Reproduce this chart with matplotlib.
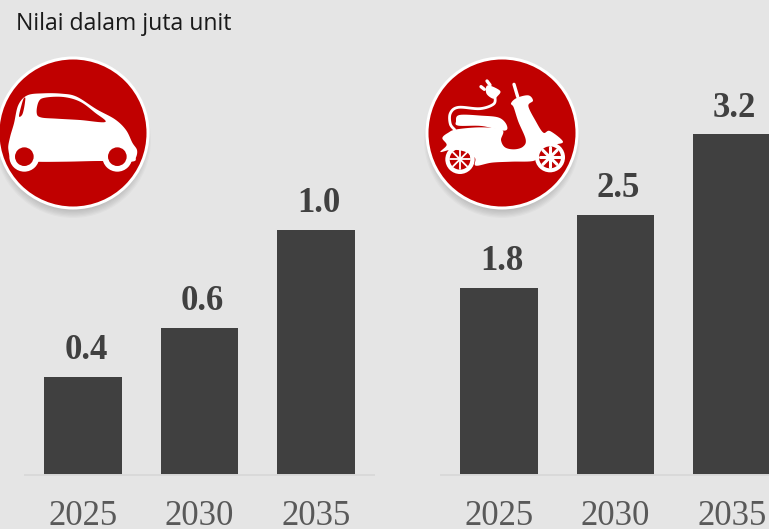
import numpy as np
import matplotlib
matplotlib.use("Agg")
import matplotlib.pyplot as plt
from matplotlib.patches import Circle, Polygon

W, H = 769, 529
BG = "#E5E5E5"; BAR = "#404040"; RED = "#C00000"; TICK = "#595959"; BASE = "#D9D9D9"

years = ["2025", "2030", "2035"]
car_values = [0.4, 0.6, 1.0]
car_labels = ["0.4", "0.6", "1.0"]
scooter_values = [1.79, 2.49, 3.26]
scooter_labels = ["1.8", "2.5", "3.2"]
title = "Nilai dalam juta unit"

fig = plt.figure(figsize=(W/100, H/100), dpi=100, facecolor=BG)
SERIF = "Liberation Serif"

def panel(x0, x1, top_val, values, labels):
    y_top, y_bot = 40, 474.5
    ax = fig.add_axes([x0/W, 1-y_bot/H, (x1-x0)/W, (y_bot-y_top)/H])
    ax.set_facecolor("none")
    xs = np.arange(len(values))
    bars = ax.bar(xs, values, width=0.67, color=BAR)
    ax.set_xlim(-0.5, 2.5); ax.set_ylim(0, top_val)
    ax.set_xticks(xs); ax.set_xticklabels(years, fontsize=25, family=SERIF, color=TICK)
    ax.tick_params(axis="x", length=0, pad=18.7)
    ax.set_yticks([])
    for s in ("top", "left", "right"):
        ax.spines[s].set_visible(False)
    ax.spines["bottom"].set_color(BASE); ax.spines["bottom"].set_linewidth(1.4)
    for b, t in zip(bars, labels):
        ax.annotate(t, (b.get_x()+b.get_width()/2, b.get_height()), xytext=(2, 7),
                    textcoords="offset points", ha="center", va="bottom",
                    fontsize=25, family=SERIF, fontweight="bold", color=BAR)
    return ax

panel(25, 374, 434.5/244.5, car_values, car_labels)
panel(441, 790, 434.5/104.3, scooter_values, scooter_labels)

fig.text(16/W, 1-24.5/H, title, fontsize=16.6, family="Open Sans", color="#1a1a1a", ha="left", va="center")

# Decorative badge icons, drawn in a pixel-space overlay
ov = fig.add_axes([0, 0, 1, 1], zorder=5)
ov.set_xlim(0, W); ov.set_ylim(H, 0); ov.axis("off"); ov.patch.set_alpha(0)

def badge(cx, cy):
    for i in range(14):
        ov.add_patch(Circle((cx, cy+7), 78-i*1.2, fc="k", ec="none", alpha=0.022))
    ov.add_patch(Circle((cx, cy), 76.5, fc="white", ec="none"))
    ov.add_patch(Circle((cx, cy), 73.5, fc=RED, ec="none"))

def smooth(pts, closed=True, n=8):
    """Catmull-Rom rounding of an outline."""
    p = np.asarray(pts, float)
    if closed:
        q = np.vstack([p[-1], p, p[0], p[1]])
    else:
        q = np.vstack([p[0], p, p[-1]])
    out = []
    for i in range(1, len(q)-2):
        for t in np.linspace(0, 1, n, endpoint=False):
            a, b, c, d = q[i-1], q[i], q[i+1], q[i+2]
            out.append(0.5*((2*b)+(-a+c)*t+(2*a-5*b+4*c-d)*t*t+(-a+3*b-3*c+d)*t**3))
    return np.array(out)

def poly(off, pts, fc, sm=True):
    p = np.asarray(pts, float)
    if sm:
        p = smooth(p)
    ov.add_patch(Polygon(p/3+off, closed=True, fc=fc, ec="none"))

def circ(off, c, r, fc):
    ov.add_patch(Circle((c[0]/3+off[0], c[1]/3+off[1]), r/3, fc=fc, ec="none"))

def line(off, pts, lw, sm=True):
    p = np.asarray(pts, float)
    if sm:
        p = smooth(p, closed=False)
    p = p/3+np.asarray(off)
    ov.plot(p[:, 0], p[:, 1], color="white", lw=lw, solid_capstyle="round", solid_joinstyle="round")

# --- car ---
badge(73, 133)
o = (0, 50)
poly(o, [(82,136),(130,130),(185,131),(230,140),(290,178),(345,208),(378,240),(397,278),(411,300),
         (408,322),(395,335),(300,333),(200,335),(105,335),(40,328),(25,298),(30,262),(42,220),(55,165)], "white")
for c in [(73,320),(352,320)]:
    circ(o, c, 45, "white"); circ(o, c, 28, RED)
poly(o, [(110,188),(116,155),(135,143),(190,141),(240,155),(285,188),(316,216),(240,210),(170,206),(122,202)], RED)
poly(o, [(57,198),(66,160),(72,144),(76,146),(72,175),(66,195)], RED)

# --- scooter ---
badge(502, 133)
o = (415, 50)
circ(o, (135,328), 44, "white"); circ(o, (135,328), 31, RED)
for a in np.deg2rad(np.arange(0, 360, 45)):
    line(o, [(135,328),(135+30*np.cos(a),328+30*np.sin(a))], 1.3, sm=False)
circ(o, (405,322), 45, "white"); circ(o, (405,322), 33, RED)
for a in np.deg2rad(np.arange(0, 360, 45)):
    line(o, [(405,322),(405+30*np.cos(a),322+30*np.sin(a))], 2.2, sm=False)
circ(o, (405,322), 10, "white")
poly(o, [(76,306),(95,285),(82,264),(100,248),(125,238),(200,232),(262,240),(258,270),(270,292),(298,298),
         (324,290),(332,268),(310,215),(296,172),(288,160),(305,144),(340,136),(354,152),(340,168),
         (362,213),(385,248),(405,243),(444,275),(415,284),(385,290),(368,307),(358,332),(290,335),(230,338),
         (182,347),(180,324),(150,305),(110,299)], "white")
poly(o, [(123,214),(133,195),(200,197),(252,203),(275,225),(268,242),(200,228),(130,227)], "white")
poly(o, [(120,318),(140,308),(165,318),(145,328)], RED)
line(o, [(240,140),(236,162),(195,176),(130,172),(106,190),(106,222),(120,240)], 2.0)
poly(o, [(218,106),(255,122),(248,138),(234,146),(214,130)], "white")
line(o, [(225,105),(216,93)], 2.4, sm=False)
line(o, [(208,118),(198,110)], 2.4, sm=False)
line(o, [(297,103),(308,140)], 2.4, sm=False)

fig.savefig("out.png", dpi=100, facecolor=BG)
